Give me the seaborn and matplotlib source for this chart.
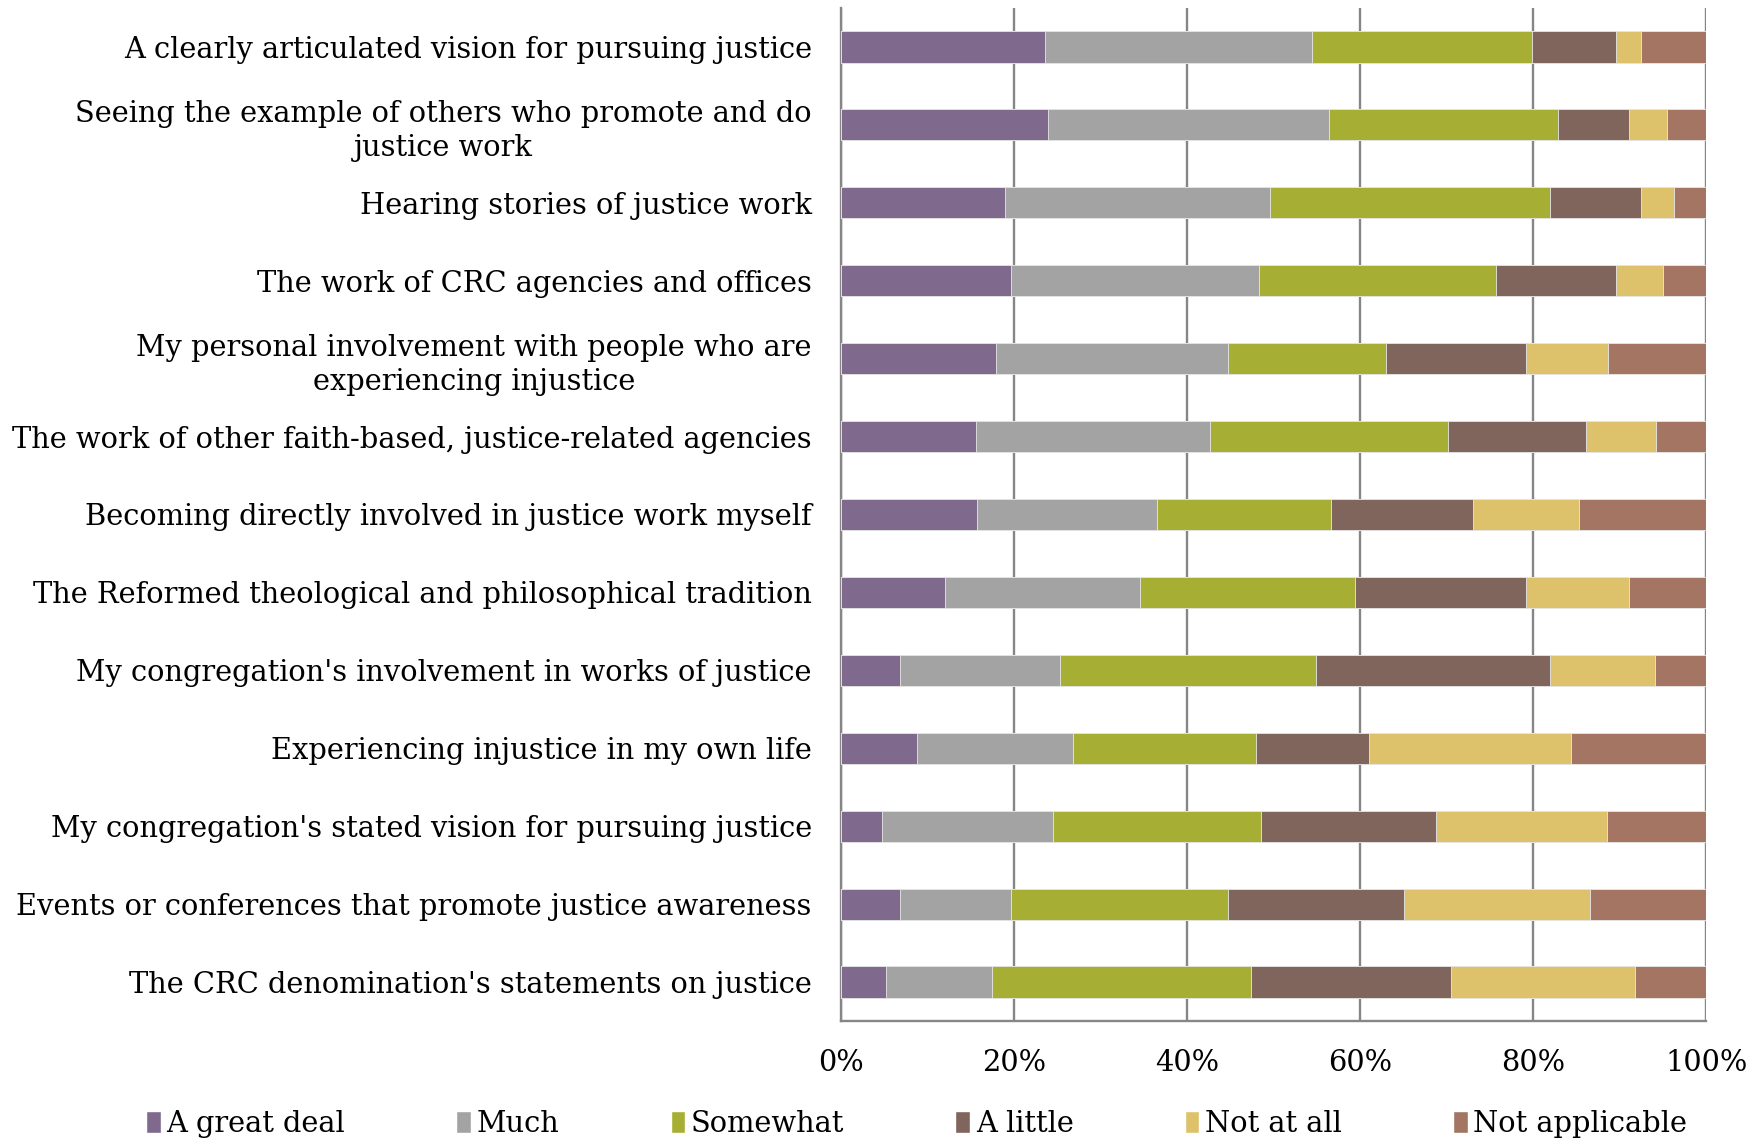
import numpy as np
import pandas as pd
import seaborn as sns
import matplotlib.pyplot as plt
from matplotlib.ticker import FixedLocator, FuncFormatter
from matplotlib.patches import Patch

categories = [
    'A clearly articulated vision for pursuing justice',
    'Seeing the example of others who promote and do\njustice work',
    'Hearing stories of justice work',
    'The work of CRC agencies and offices',
    'My personal involvement with people who are\nexperiencing injustice',
    'The work of other faith-based, justice-related agencies',
    'Becoming directly involved in justice work myself',
    'The Reformed theological and philosophical tradition',
    "My congregation's involvement in works of justice",
    'Experiencing injustice in my own life',
    "My congregation's stated vision for pursuing justice",
    'Events or conferences that promote justice awareness',
    "The CRC denomination's statements on justice",
]

responses = ['A great deal', 'Much', 'Somewhat', 'A little', 'Not at all', 'Not applicable']

great_deal = [23.6, 23.9, 18.9, 19.7, 17.9, 15.6, 15.7, 12.0, 6.8, 8.8, 4.7, 6.8, 5.2]
much = [30.8, 32.5, 30.7, 28.6, 26.8, 27.0, 20.8, 22.6, 18.5, 18.0, 19.8, 12.8, 12.3]
somewhat = [25.4, 26.5, 32.3, 27.4, 18.3, 27.5, 20.1, 24.8, 29.6, 21.1, 24.0, 25.1, 29.9]
a_little = [9.7, 8.1, 10.6, 13.8, 16.2, 16.0, 16.4, 19.7, 27.0, 13.1, 20.2, 20.4, 23.1]
not_at_all = [3.0, 4.4, 3.8, 5.5, 9.4, 8.1, 12.3, 11.9, 12.2, 23.3, 19.8, 21.4, 21.3]
not_applicable = [7.5, 4.6, 3.7, 5.0, 11.4, 5.8, 14.7, 9.0, 5.9, 15.7, 11.5, 13.5, 8.2]

colors = ['#7F6A8E', '#A3A3A3', '#A6AF33', '#7F655B', '#DEC16B', '#A47563']

df = pd.DataFrame({'item': categories, 'A great deal': great_deal, 'Much': much,
                   'Somewhat': somewhat, 'A little': a_little,
                   'Not at all': not_at_all, 'Not applicable': not_applicable})
# normalise each row to 100%
totals = df[responses].sum(axis=1)
cum = df[responses].div(totals, axis=0).cumsum(axis=1) * 100

sns.set_style('white')
plt.rcParams['font.family'] = ['DejaVu Serif']
plt.rcParams['text.color'] = 'black'
plt.rcParams['xtick.color'] = 'black'
plt.rcParams['ytick.color'] = 'black'

FS = 20.8

fig = plt.figure(figsize=(17.63, 11.40), dpi=100)
ax = fig.add_axes([0.477, 0.1044, 0.4909, 0.8886])

# stacked bars: draw cumulative totals from the last series back to the first
for resp, col in reversed(list(zip(responses, colors))):
    sns.barplot(x=cum[resp], y=df['item'], orient='h', color=col, saturation=1,
                width=0.4, edgecolor='#E8E8E8', linewidth=0.6, ax=ax, zorder=3)

ax.set_xlim(0, 100)
ax.set_ylim(len(categories) - 0.5, -0.5)
ax.set_xlabel('')
ax.set_ylabel('')

ax.xaxis.set_major_locator(FixedLocator([0, 20, 40, 60, 80, 100]))
ax.xaxis.set_major_formatter(FuncFormatter(lambda v, p: '%d%%' % v))
ax.grid(axis='x', color='#868686', linewidth=1.7, zorder=0)
ax.set_axisbelow(True)

ax.yaxis.set_minor_locator(FixedLocator(np.arange(-0.5, len(categories), 1.0)))
ax.tick_params(axis='y', which='major', length=0, pad=21, labelsize=FS)
ax.tick_params(axis='y', which='minor', length=6, width=1.7, color='#868686')
ax.tick_params(axis='x', which='major', length=6, width=1.7, color='#868686',
               pad=14, labelsize=FS)
for lbl in ax.get_yticklabels():
    lbl.set_multialignment('center')
    lbl.set_linespacing(1.3)

for side in ['top', 'right']:
    ax.spines[side].set_visible(False)
for side in ['left', 'bottom']:
    ax.spines[side].set_color('#868686')
    ax.spines[side].set_linewidth(1.7)

handles = [Patch(facecolor=c, label=r) for r, c in zip(responses, colors)]
fig.legend(handles=handles, loc='center', bbox_to_anchor=(0.52, 0.014), ncol=6,
           frameon=False, fontsize=FS, handlelength=0.5, handleheight=0.8,
           handletextpad=0.2, columnspacing=3.85)

fig.savefig('out.png', dpi=100)
